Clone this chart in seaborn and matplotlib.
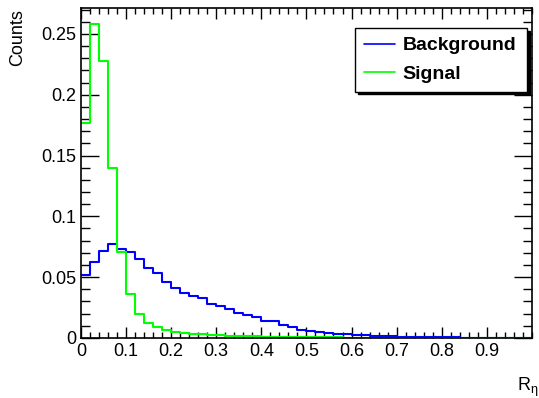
import numpy as np
import pandas as pd
import matplotlib
matplotlib.use('Agg')
import matplotlib.pyplot as plt
import seaborn as sns
from matplotlib.lines import Line2D
from matplotlib.ticker import MultipleLocator

# 50 bins of 0.02 from 0 to 1
bin_centers = np.arange(0.01, 1.0, 0.02)

# normalised counts
background = [0.052, 0.0625, 0.0715, 0.077, 0.073, 0.071, 0.0647, 0.0576, 0.0535, 0.0463,
              0.0414, 0.0373, 0.0343, 0.0329, 0.0282, 0.026, 0.0236, 0.0205, 0.0186, 0.0175,
              0.0137, 0.0137, 0.011, 0.0093, 0.0068, 0.0058, 0.0049, 0.0041, 0.0035, 0.003,
              0.0025, 0.0021, 0.0017, 0.0014, 0.0012, 0.001, 0.0008, 0.0007, 0.0006, 0.0005,
              0.0004, 0.0004, 0.0003, 0.0003, 0.0002, 0.0002, 0.0002, 0.0001, 0.0001, 0.0001]
signal = [0.177, 0.258, 0.228, 0.14, 0.071, 0.036, 0.0197, 0.0126, 0.0093, 0.0066,
          0.0052, 0.0043, 0.0036, 0.003, 0.0026, 0.0022, 0.0019, 0.0016, 0.0014, 0.0012,
          0.001, 0.0009, 0.0008, 0.0007, 0.0006, 0.0005, 0.0005, 0.0004, 0.0004, 0.0003,
          0.0003, 0.0003, 0.0002, 0.0002, 0.0002, 0.0002, 0.0001, 0.0001, 0.0001, 0.0001,
          0.0001, 0.0001, 0.0001, 0.0001, 0.0001, 0.0, 0.0, 0.0, 0.0, 0.0]

series_names = ['Background', 'Signal']
series_colors = ['#0000ff', '#00ff00']

sns.set_style('ticks')
plt.rcParams['font.family'] = ['Liberation Sans', 'DejaVu Sans']
plt.rcParams['mathtext.fontset'] = 'custom'
plt.rcParams['mathtext.rm'] = 'Liberation Sans'
plt.rcParams['mathtext.it'] = 'Liberation Sans'
plt.rcParams['text.color'] = 'black'
plt.rcParams['axes.labelcolor'] = 'black'
plt.rcParams['xtick.color'] = 'black'
plt.rcParams['ytick.color'] = 'black'

fig = plt.figure(figsize=(5.39, 3.98), dpi=100)
ax = fig.add_axes([0.150, 0.151, 0.837, 0.829])

for vals, col in zip([background, signal], series_colors):
    df = pd.DataFrame({'x': bin_centers, 'w': vals})
    sns.histplot(data=df, x='x', weights='w', binwidth=0.02, binrange=(0, 1),
                 element='step', fill=False, color=col, linewidth=1.5, ax=ax)

ax.set_xlim(0, 1)
ax.set_ylim(0, 0.2714)

ax.xaxis.set_minor_locator(MultipleLocator(0.02))
ax.yaxis.set_minor_locator(MultipleLocator(0.01))
ax.set_xticks(np.arange(10) / 10)
ax.set_xticklabels(['0', '0.1', '0.2', '0.3', '0.4', '0.5', '0.6', '0.7', '0.8', '0.9'])
ax.set_yticks([0, 0.05, 0.1, 0.15, 0.2, 0.25])
ax.set_yticklabels(['0', '0.05', '0.1', '0.15', '0.2', '0.25'])

ax.tick_params(which='both', direction='in', top=True, right=True, labelsize=13,
               width=1, color='black', labelcolor='black')
ax.tick_params(axis='x', which='major', length=8, pad=4)
ax.tick_params(axis='x', which='minor', length=4)
ax.tick_params(axis='y', which='major', length=13, pad=3)
ax.tick_params(axis='y', which='minor', length=6.5)
for sp in ax.spines.values():
    sp.set_linewidth(1.2)
    sp.set_color('black')

ax.set_ylabel('Counts', fontsize=13, loc='top', color='black')
ax.yaxis.set_label_coords(-0.122, 0.995)
ax.set_xlabel(r'R$_\eta$', fontsize=13, loc='right', color='black')
ax.xaxis.set_label_coords(1.015, -0.115)

handles = [Line2D([], [], color=c, linewidth=1.2) for c in series_colors]
leg = ax.legend(handles, series_names, loc='upper left',
                bbox_to_anchor=(0.6075, 0.745, 0.381, 0.194), mode='expand',
                frameon=True, fancybox=False, edgecolor='black', framealpha=1,
                shadow={'color': 'black', 'alpha': 1, 'ox': 2, 'oy': -2},
                prop={'weight': 'bold', 'size': 14}, handlelength=1.6,
                borderpad=0.45, labelspacing=0.55, handletextpad=0.4, borderaxespad=0)
leg.get_frame().set_linewidth(1)
for t in leg.get_texts():
    t.set_color('black')

fig.savefig('out.png', dpi=100)
